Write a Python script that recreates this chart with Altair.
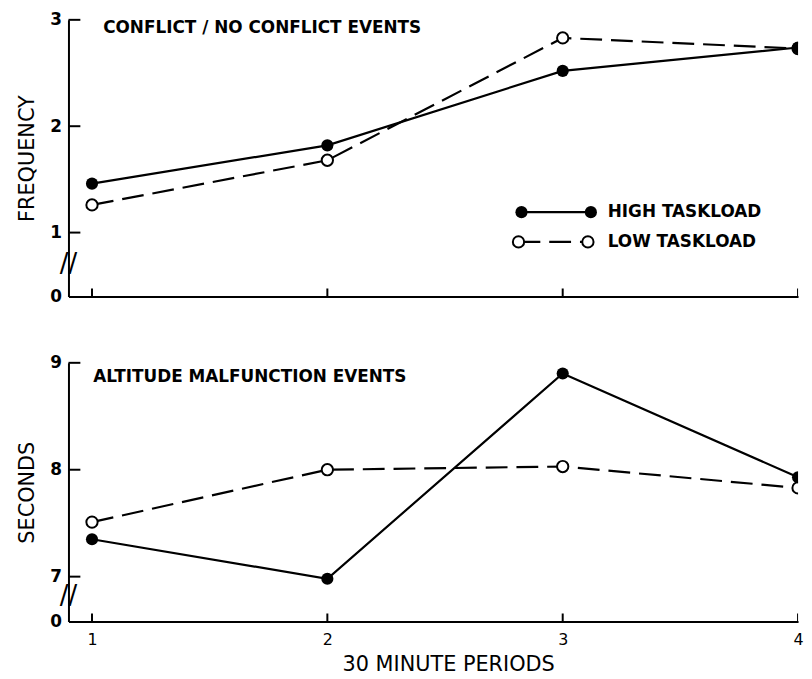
import altair as alt
import pandas as pd

# ---- data ----
PERIODS = [1, 2, 3, 4]
SERIES = ["HIGH TASKLOAD", "LOW TASKLOAD"]
FREQ_HIGH = [1.46, 1.82, 2.52, 2.74]
FREQ_LOW = [1.26, 1.68, 2.83, 2.73]
SEC_HIGH = [7.35, 6.98, 8.90, 7.93]
SEC_LOW = [7.51, 8.00, 8.03, 7.83]
PANEL_TITLES = ["CONFLICT / NO CONFLICT EVENTS", "ALTITUDE MALFUNCTION EVENTS"]
Y_TITLES = ["FREQUENCY", "SECONDS"]
X_TITLE = "30 MINUTE PERIODS"
TOP_TICKS = [1, 2, 3]
BOT_TICKS = [7, 8, 9]

FONT = "DejaVu Sans"
W = 736
X_DOMAIN = [0.9, 4.0]


def series_df(high, low):
    rows = []
    for p, v in zip(PERIODS, high):
        rows.append({"period": p, "value": v, "series": SERIES[0]})
    for p, v in zip(PERIODS, low):
        rows.append({"period": p, "value": v, "series": SERIES[1]})
    return pd.DataFrame(rows)


def panel(df, ydomain, ticks, ytitle, title, title_pos, height, bottom, break_y, legend):
    xscale = alt.Scale(domain=X_DOMAIN, nice=False, zero=False)
    yscale = alt.Scale(domain=ydomain, nice=False, zero=False)
    if bottom:
        xaxis = alt.Axis(values=PERIODS, format="d", ticks=False, labelPadding=10,
                         labelFontSize=16, labelFont=FONT, labelColor="black",
                         title=X_TITLE, titleFontSize=21, titleFont=FONT,
                         titleFontWeight="normal", titlePadding=6, titleColor="black",
                         titleX=383, domainColor="black", domainWidth=2, grid=False,
                         labelFlush=False)
    else:
        xaxis = alt.Axis(values=PERIODS, labels=False, ticks=False, title=None,
                         domainColor="black", domainWidth=2, grid=False)
    yaxis = alt.Axis(values=[ydomain[0]] + ticks, format=".0f",
                     labelExpr=f"datum.value < {ticks[0] - 0.1} ? '0' : datum.label",
                     ticks=False, labelPadding=7, labelFontSize=17, labelFont=FONT,
                     labelFontWeight="bold",
                     labelColor="black", labelFlush=False, labelOverlap=False,
                     title=ytitle, titleFontSize=21, titleFont=FONT,
                     titleFontWeight="normal", titlePadding=12, titleColor="black",
                     domainColor="black", domainWidth=2, grid=False)

    X = alt.X("period:Q", scale=xscale, axis=xaxis)
    Y = alt.Y("value:Q", scale=yscale, axis=yaxis)

    base = alt.Chart(df)
    high = base.transform_filter(alt.datum.series == SERIES[0])
    low = base.transform_filter(alt.datum.series == SERIES[1])

    line_high = high.mark_line(color="black", strokeWidth=2.2, clip=True).encode(x=X, y=Y)
    line_low = low.mark_line(color="black", strokeWidth=2.2, strokeDash=[22, 9],
                             clip=True).encode(x=X, y=Y)
    pts_low = low.mark_circle(size=130, color="white", stroke="black", strokeWidth=2,
                              opacity=1, clip=True).encode(x=X, y=Y)
    pts_high = high.mark_circle(size=150, color="black", opacity=1,
                                clip=True).encode(x=X, y=Y)

    # inward tick marks
    ytick_df = pd.DataFrame({"value": ticks})
    yticks = alt.Chart(ytick_df).mark_rule(color="black", strokeWidth=2).encode(
        y=Y, x=alt.value(0), x2=alt.value(12))
    xtick_df = pd.DataFrame({"period": PERIODS})
    xticks = alt.Chart(xtick_df).mark_rule(color="black", strokeWidth=2, clip=True).encode(
        x=X, y=alt.value(height), y2=alt.value(height - 8))

    # axis break marks
    brk = alt.Chart(pd.DataFrame({"value": [break_y], "t": ["//"]})).mark_text(
        fontSize=26, font=FONT, color="black", align="center", baseline="middle").encode(
        y=Y, x=alt.value(0), text="t:N")

    ttl = alt.Chart(pd.DataFrame({"t": [title]})).mark_text(
        align="left", baseline="middle", fontSize=17, font=FONT, fontWeight="bold",
        color="black").encode(
        x=alt.value(title_pos[0]), y=alt.value(title_pos[1]), text="t:N")

    layers = [line_high, line_low, pts_low, pts_high, yticks, xticks, brk, ttl]

    if legend:
        leg_pts = pd.DataFrame({
            "series": [SERIES[0], SERIES[0], SERIES[1], SERIES[1]],
            "lx": [457, 527, 454, 524],
            "ly": [194, 194, 224, 224],
        })
        leg_lines = pd.DataFrame({
            "series": SERIES, "x1": [457, 454], "x2": [527, 524], "ly": [194, 224],
            "tx": [544, 544]})
        lh = alt.Chart(leg_lines).transform_filter(alt.datum.series == SERIES[0]).mark_rule(
            color="black", strokeWidth=2.2).encode(
            x=alt.X("x1:Q", scale=None), x2="x2:Q", y=alt.Y("ly:Q", scale=None))
        ll = alt.Chart(leg_lines).transform_filter(alt.datum.series == SERIES[1]).mark_rule(
            color="black", strokeWidth=2.2, strokeDash=[22, 9]).encode(
            x=alt.X("x1:Q", scale=None), x2="x2:Q", y=alt.Y("ly:Q", scale=None))
        lpl = alt.Chart(leg_pts).transform_filter(alt.datum.series == SERIES[1]).mark_circle(
            size=130, color="white", stroke="black", strokeWidth=2, opacity=1).encode(
            x=alt.X("lx:Q", scale=None), y=alt.Y("ly:Q", scale=None))
        lph = alt.Chart(leg_pts).transform_filter(alt.datum.series == SERIES[0]).mark_circle(
            size=150, color="black", opacity=1).encode(
            x=alt.X("lx:Q", scale=None), y=alt.Y("ly:Q", scale=None))
        ltxt = alt.Chart(leg_lines).mark_text(
            align="left", baseline="middle", fontSize=17, font=FONT, fontWeight="bold",
            color="black").encode(
            x=alt.X("tx:Q", scale=None), y=alt.Y("ly:Q", scale=None), text="series:N")
        layers += [lh, ll, lpl, lph, ltxt]

    return alt.layer(*layers).properties(width=W, height=height)


top = panel(series_df(FREQ_HIGH, FREQ_LOW), [0.4, 3.0], TOP_TICKS, Y_TITLES[0],
            PANEL_TITLES[0], (35, 8), 279, False, 0.7, True)
bot = panel(series_df(SEC_HIGH, SEC_LOW), [6.58, 9.0], BOT_TICKS, Y_TITLES[1],
            PANEL_TITLES[1], (25, 14), 261, True, 6.82, False)

chart = alt.vconcat(top, bot, spacing=50).properties(
    padding={"left": 9, "top": 0, "right": 0, "bottom": 0},
    background="white",
).configure_view(stroke=None)

chart.save("out.html", embed_options={"renderer": "svg", "actions": False})
